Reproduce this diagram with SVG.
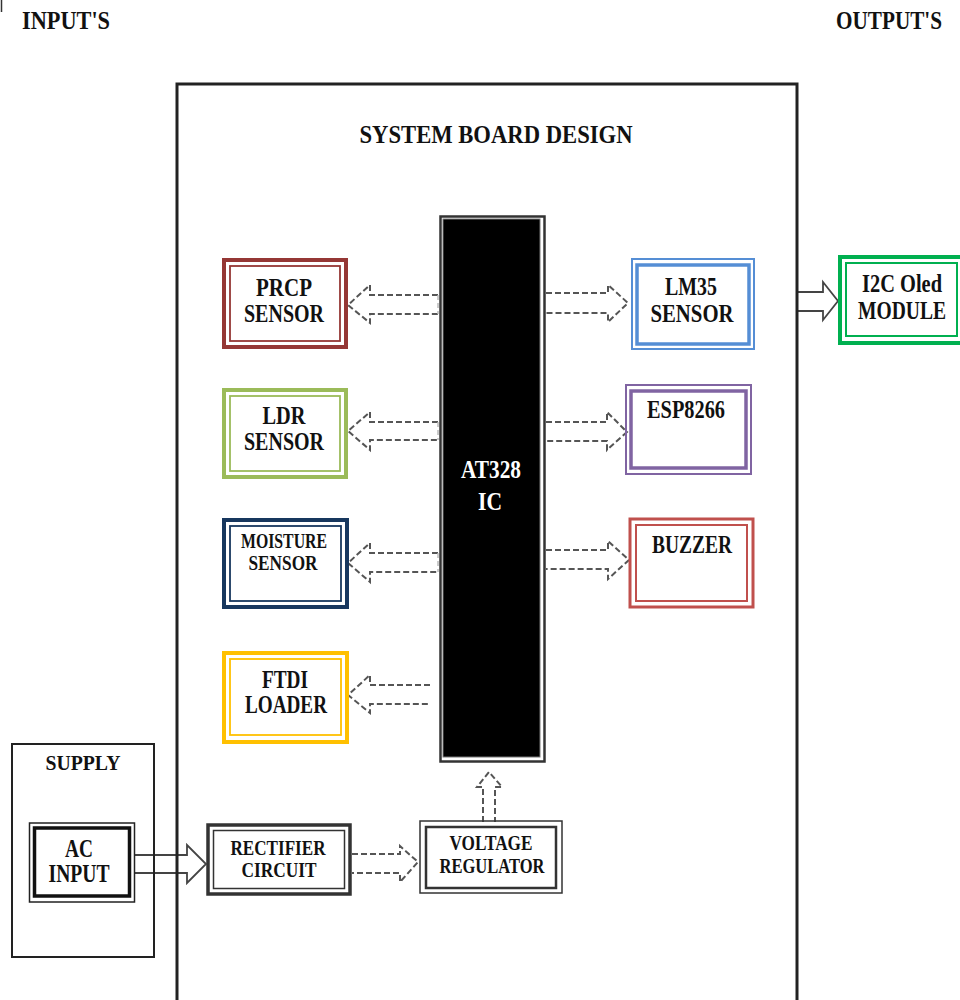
<svg xmlns="http://www.w3.org/2000/svg" width="960" height="1000" viewBox="0 0 960 1000">
<style>
text{font-family:"Liberation Serif","Times New Roman",serif;font-weight:bold;fill:#111;text-anchor:middle}
.b{font-size:25px}
.s{font-size:20px}
.w{fill:#fff}
.da{fill:none;stroke:#555;stroke-width:2;stroke-dasharray:6 3}
.sa{fill:#fff;stroke:#444;stroke-width:1.8}
.n{fill:none}
</style>
<rect x="0" y="0" width="960" height="1000" fill="#fff"/>
<line x1="1.5" y1="0" x2="1.5" y2="12" stroke="#333" stroke-width="1.5"/>
<text class="b" x="66" y="29" textLength="88" lengthAdjust="spacingAndGlyphs">INPUT'S</text>
<text class="b" x="889" y="29" textLength="106" lengthAdjust="spacingAndGlyphs">OUTPUT'S</text>

<g id="connectors">
  <path class="sa" d="M134,855 H187 V845 L206,864 L187,883 V873 H134"/>
  <path class="sa" d="M797,292 H823 V282 L838,301 L823,320 V311 H797"/>
  <path class="da" d="M438,295 H370 V285 L348,305 L370,323 V314 H438"/>
  <line x1="438" y1="295" x2="438" y2="314" stroke="#bbb" stroke-width="1.5" stroke-dasharray="5 3"/>
  <path class="da" d="M438,422 H370 V412 L348,431 L370,450 V440 H438"/>
  <line x1="438" y1="422" x2="438" y2="440" stroke="#bbb" stroke-width="1.5" stroke-dasharray="5 3"/>
  <path class="da" d="M438,553 H370 V543 L348,563 L370,582 V572 H438"/>
  <line x1="438" y1="553" x2="438" y2="572" stroke="#bbb" stroke-width="1.5" stroke-dasharray="5 3"/>
  <path class="da" d="M430,685 H370 V675 L348,695 L370,713 V704 H430"/>
  <path class="da" d="M546,293 H608 V285 L628,303 L608,322 V313 H546"/>
  <path class="da" d="M546,422 H607 V412 L627,432 L607,450 V441 H546"/>
  <path class="da" d="M546,550 H608 V541 L629,560 L608,579 V569 H546"/>
  <path class="da" d="M352,854 H400 V846 L418,862 L400,882 V873 H352"/>
  <path class="da" d="M483,822 V787 H477 L489,772 L502,787 H495 V822"/>
</g>

<g id="board">
  <rect x="177" y="84" width="620" height="1000" class="n" stroke="#222" stroke-width="3"/>
  <text class="b" x="496" y="143" textLength="273" lengthAdjust="spacingAndGlyphs">SYSTEM BOARD DESIGN</text>
</g>

<g id="at328">
  <rect x="440.5" y="216.5" width="104" height="545" fill="#fff" stroke="#333" stroke-width="2.5"/>
  <rect x="443" y="219" width="97" height="538" fill="#000" stroke="#777" stroke-width="1"/>
  <text class="b w" x="491" y="478" textLength="60" lengthAdjust="spacingAndGlyphs">AT328</text>
  <text class="b w" x="490" y="510" textLength="24" lengthAdjust="spacingAndGlyphs">IC</text>
</g>

<g id="prcp">
  <rect x="224" y="260" width="122" height="87" class="n" stroke="#953735" stroke-width="4"/>
  <rect x="230" y="266" width="110" height="75" class="n" stroke="#953735" stroke-width="1.8"/>
  <text class="b" x="284" y="296" textLength="56" lengthAdjust="spacingAndGlyphs">PRCP</text>
  <text class="b" x="284" y="322" textLength="80" lengthAdjust="spacingAndGlyphs">SENSOR</text>
</g>

<g id="lm35">
  <rect x="632" y="259" width="122" height="90" class="n" stroke="#558ed5" stroke-width="2"/>
  <rect x="637" y="265" width="112" height="79" class="n" stroke="#558ed5" stroke-width="3.5"/>
  <text class="b" x="691" y="295" textLength="52" lengthAdjust="spacingAndGlyphs">LM35</text>
  <text class="b" x="692" y="322" textLength="83" lengthAdjust="spacingAndGlyphs">SENSOR</text>
</g>

<g id="i2c">
  <rect x="840" y="257" width="125" height="86" class="n" stroke="#00b050" stroke-width="4"/>
  <rect x="846" y="263" width="111" height="73" class="n" stroke="#00b050" stroke-width="2"/>
  <text class="b" x="902" y="292" textLength="80" lengthAdjust="spacingAndGlyphs">I2C Oled</text>
  <text class="b" x="902" y="319" textLength="88" lengthAdjust="spacingAndGlyphs">MODULE</text>
</g>

<g id="ldr">
  <rect x="224" y="390" width="122" height="87" class="n" stroke="#9bbb59" stroke-width="4"/>
  <rect x="230" y="396" width="110" height="75" class="n" stroke="#9bbb59" stroke-width="1.8"/>
  <text class="b" x="284" y="424" textLength="43" lengthAdjust="spacingAndGlyphs">LDR</text>
  <text class="b" x="284" y="450" textLength="80" lengthAdjust="spacingAndGlyphs">SENSOR</text>
</g>

<g id="esp8266">
  <rect x="626" y="385" width="125" height="89" class="n" stroke="#8064a2" stroke-width="2"/>
  <rect x="631" y="391" width="115" height="77" class="n" stroke="#8064a2" stroke-width="3.5"/>
  <text class="b" x="686" y="418" textLength="78" lengthAdjust="spacingAndGlyphs">ESP8266</text>
</g>

<g id="moisture">
  <rect x="224" y="520" width="123" height="87" class="n" stroke="#17375e" stroke-width="4"/>
  <rect x="230" y="526" width="111" height="75" class="n" stroke="#17375e" stroke-width="1.8"/>
  <text class="s" x="284" y="548" textLength="86" lengthAdjust="spacingAndGlyphs">MOISTURE</text>
  <text class="s" x="283" y="570" textLength="69" lengthAdjust="spacingAndGlyphs">SENSOR</text>
</g>

<g id="buzzer">
  <rect x="630" y="519" width="123" height="88" class="n" stroke="#c0504d" stroke-width="3"/>
  <rect x="636" y="525" width="111" height="76" class="n" stroke="#c0504d" stroke-width="2"/>
  <text class="b" x="692" y="553" textLength="80" lengthAdjust="spacingAndGlyphs">BUZZER</text>
</g>

<g id="ftdi">
  <rect x="224" y="653" width="123" height="89" class="n" stroke="#ffc000" stroke-width="4"/>
  <rect x="230" y="659" width="111" height="76" class="n" stroke="#ffc000" stroke-width="1.8"/>
  <text class="b" x="285" y="688" textLength="46" lengthAdjust="spacingAndGlyphs">FTDI</text>
  <text class="b" x="286" y="713" textLength="82" lengthAdjust="spacingAndGlyphs">LOADER</text>
</g>

<g id="supply">
  <rect x="12" y="744" width="142" height="213" class="n" stroke="#222" stroke-width="2"/>
  <text class="s" x="83" y="770" textLength="75" lengthAdjust="spacingAndGlyphs">SUPPLY</text>
</g>

<g id="ac-input">
  <rect x="29.5" y="823" width="105" height="79" class="n" stroke="#222" stroke-width="1.5"/>
  <rect x="34.5" y="828" width="95" height="68" class="n" stroke="#111" stroke-width="3.5"/>
  <text class="b" x="79" y="857" textLength="28" lengthAdjust="spacingAndGlyphs">AC</text>
  <text class="b" x="79" y="882" textLength="61" lengthAdjust="spacingAndGlyphs">INPUT</text>
</g>

<g id="rectifier">
  <rect x="208" y="825" width="142" height="69" class="n" stroke="#333" stroke-width="3.5"/>
  <rect x="213.5" y="830.5" width="131" height="58" class="n" stroke="#333" stroke-width="1.5"/>
  <text class="s" x="278" y="855" textLength="95" lengthAdjust="spacingAndGlyphs">RECTIFIER</text>
  <text class="s" x="279" y="877" textLength="75" lengthAdjust="spacingAndGlyphs">CIRCUIT</text>
</g>

<g id="voltage-regulator">
  <rect x="420" y="821" width="142" height="72" class="n" stroke="#333" stroke-width="1.5"/>
  <rect x="426" y="827" width="130" height="61" class="n" stroke="#333" stroke-width="2.5"/>
  <text class="s" x="491" y="850" textLength="83" lengthAdjust="spacingAndGlyphs">VOLTAGE</text>
  <text class="s" x="492" y="873" textLength="105" lengthAdjust="spacingAndGlyphs">REGULATOR</text>
</g>
</svg>
